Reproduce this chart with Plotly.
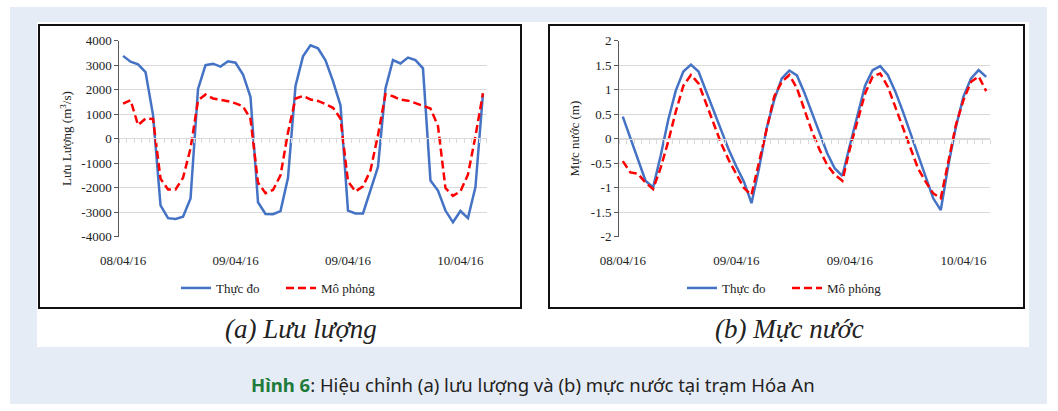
import plotly.graph_objects as go

# ---------------- data ----------------
time_index = list(range(49))
tick_pos = [0, 15, 30, 45]
tick_labels = ["08/04/16", "09/04/16", "09/04/16", "10/04/16"]

q_obs = [3380, 3140, 3030, 2720, 960, -2730, -3250, -3280, -3190, -2450,
         2030, 3000, 3060, 2940, 3160, 3100, 2620, 1700, -2600, -3080,
         -3090, -2960, -1600, 2150, 3360, 3810, 3690, 3200, 2350, 1360,
         -2940, -3060, -3060, -2120, -1160, 2050, 3210, 3070, 3310, 3210,
         2870, -1710, -2120, -2940, -3420, -2960, -3250, -1980, 1840]
q_sim = [1430, 1570, 550, 820, 800, -1640, -2080, -2080, -1600, -400,
         1560, 1800, 1640, 1600, 1530, 1440, 1320, 800, -1800, -2230,
         -2100, -1500, 250, 1640, 1740, 1600, 1540, 1410, 1260, 820,
         -1750, -2160, -1950, -1300, 140, 1810, 1730, 1590, 1550, 1450,
         1340, 1230, 520, -2020, -2340, -2150, -1470, 100, 1850]
h_obs = [0.45, 0.02, -0.42, -0.86, -1.00, -0.35, 0.38, 0.98, 1.37, 1.51,
         1.37, 0.97, 0.55, 0.14, -0.23, -0.57, -0.88, -1.32, -0.60, 0.21,
         0.79, 1.23, 1.39, 1.29, 0.93, 0.52, 0.11, -0.30, -0.61, -0.76,
         -0.13, 0.48, 1.08, 1.40, 1.48, 1.30, 0.96, 0.55, 0.11, -0.33,
         -0.74, -1.22, -1.46, -0.54, 0.24, 0.86, 1.23, 1.40, 1.26]
h_sim = [-0.46, -0.69, -0.72, -0.90, -1.03, -0.60, -0.06, 0.55, 1.08, 1.30,
         1.13, 0.72, 0.28, -0.10, -0.44, -0.74, -1.01, -1.15, -0.47, 0.24,
         0.86, 1.16, 1.30, 1.03, 0.59, 0.14, -0.23, -0.54, -0.74, -0.86,
         -0.20, 0.38, 0.92, 1.27, 1.33, 1.06, 0.65, 0.21, -0.20, -0.61,
         -0.88, -1.12, -1.22, -0.47, 0.28, 0.79, 1.16, 1.27, 0.97]

q_ticks = [4000, 3000, 2000, 1000, 0, -1000, -2000, -3000, -4000]
q_ticktext = ["4000", "3000", "2000", "1000", "0", "-1000", "-2000", "-3000", "-4000"]
h_ticks = [2, 1.5, 1, 0.5, 0, -0.5, -1, -1.5, -2]
h_ticktext = ["2", "1.5", "1", "0.5", "0", "-0.5", "-1", "-1.5", "-2"]

name_obs = "Thực đo"
name_sim = "Mô phỏng"

# ---------------- style ----------------
W, H = 1058, 411
BLUE = "#4472C4"
RED = "#FF0000"
GRID = "#D9D9D9"
AXIS = "#595959"
SERIF = "Liberation Serif, Times New Roman, serif"
DASH = "8px,4px"


def px(x):
    return x / W


def py(y):
    return 1 - y / H


fig = go.Figure()

fig.add_trace(go.Scatter(x=time_index, y=q_obs, name=name_obs, mode="lines",
                         line=dict(color=BLUE, width=2.5), xaxis="x", yaxis="y",
                         legend="legend"))
fig.add_trace(go.Scatter(x=time_index, y=q_sim, name=name_sim, mode="lines",
                         line=dict(color=RED, width=2.5, dash=DASH), xaxis="x", yaxis="y",
                         legend="legend"))
fig.add_trace(go.Scatter(x=time_index, y=h_obs, name=name_obs, mode="lines",
                         line=dict(color=BLUE, width=2.5), xaxis="x2", yaxis="y2",
                         legend="legend2"))
fig.add_trace(go.Scatter(x=time_index, y=h_sim, name=name_sim, mode="lines",
                         line=dict(color=RED, width=2.5, dash=DASH), xaxis="x2", yaxis="y2",
                         legend="legend2"))
# helper traces so the zero-line category axes get drawn
fig.add_trace(go.Scatter(x=[0], y=[None], xaxis="x3", yaxis="y", showlegend=False,
                         hoverinfo="skip", mode="lines"))
fig.add_trace(go.Scatter(x=[0], y=[None], xaxis="x4", yaxis="y2", showlegend=False,
                         hoverinfo="skip", mode="lines"))

xr = [-0.5, len(time_index) - 0.5]
left_dom = [px(119.3), px(486.7)]
right_dom = [px(619), px(990)]
ydom = [py(236.5), py(40.7)]

common_x = dict(range=xr, tickmode="array", tickvals=tick_pos, ticktext=tick_labels,
                showgrid=False, zeroline=False, showline=False, ticks="",
                tickfont=dict(family=SERIF, size=13, color="#222"),
                ticklabelstandoff=14, fixedrange=True, automargin=False)
zero_x = dict(range=xr, tickmode="linear", tick0=-0.5, dtick=1, ticks="outside", ticklen=4,
              tickcolor=GRID, tickwidth=1, showline=True, linecolor=GRID, linewidth=1,
              showticklabels=False, showgrid=False, zeroline=False, automargin=False)
common_y = dict(domain=ydom, tickmode="array", showgrid=True, gridcolor=GRID,
                gridwidth=1, zeroline=False, showline=True, linecolor=AXIS, linewidth=1,
                ticks="outside", ticklen=4, tickcolor=AXIS, automargin=False,
                tickfont=dict(family=SERIF, size=13, color="#222"))
fig.update_layout(
    xaxis=dict(domain=left_dom, anchor="y", **common_x),
    xaxis2=dict(domain=right_dom, anchor="y2", **common_x),
    xaxis3=dict(overlaying="x", anchor="free", position=py(138.3), **zero_x),
    xaxis4=dict(overlaying="x2", anchor="free", position=py(138.7), **zero_x),
    yaxis=dict(anchor="x", range=[-4000, 4000], tickvals=q_ticks, ticktext=q_ticktext,
               title=dict(text="Lưu Lượng (m<sup>3</sup>/s)", standoff=6,
                          font=dict(family=SERIF, size=13, color="#222")),
               **common_y),
    yaxis2=dict(anchor="x2", range=[-2, 2], tickvals=h_ticks, ticktext=h_ticktext,
                title=dict(text="Mực nước (m)", standoff=8,
                           font=dict(family=SERIF, size=13, color="#222")),
                **common_y),
    legend=dict(orientation="h", x=px(176), xanchor="left", y=py(288), yanchor="middle",
                font=dict(family=SERIF, size=13, color="#222"), bgcolor="rgba(0,0,0,0)",
                entrywidth=60, itemwidth=30, tracegroupgap=0),
    legend2=dict(orientation="h", x=px(682), xanchor="left", y=py(288), yanchor="middle",
                 font=dict(family=SERIF, size=13, color="#222"), bgcolor="rgba(0,0,0,0)",
                 entrywidth=60, itemwidth=30, tracegroupgap=0),
    width=W, height=H, autosize=False, margin=dict(l=0, r=0, t=0, b=0, pad=0, autoexpand=False),
    paper_bgcolor="white", plot_bgcolor="rgba(0,0,0,0)",
    showlegend=True,
)

# decorative background panels / frames
shapes = [
    dict(type="rect", xref="paper", yref="paper", x0=px(10), x1=px(1047), y0=py(404), y1=py(7),
         fillcolor="#E6ECF6", line=dict(width=0), layer="below"),
    dict(type="rect", xref="paper", yref="paper", x0=px(37), x1=px(1029), y0=py(347), y1=py(22),
         fillcolor="white", line=dict(width=0), layer="below"),
    dict(type="rect", xref="paper", yref="paper", x0=px(39), x1=px(521), y0=py(308), y1=py(25),
         fillcolor="rgba(0,0,0,0)", line=dict(color="#111", width=2), layer="below"),
    dict(type="rect", xref="paper", yref="paper", x0=px(549), x1=px(1024), y0=py(308), y1=py(25),
         fillcolor="rgba(0,0,0,0)", line=dict(color="#111", width=2), layer="below"),
]
fig.update_layout(shapes=shapes)

fig.add_annotation(x=px(301), y=py(329), xref="paper", yref="paper", showarrow=False,
                   xanchor="center", yanchor="middle",
                   text="<i>(a) Lưu lượng</i>", font=dict(family=SERIF, size=27, color="#222"))
fig.add_annotation(x=px(789), y=py(329), xref="paper", yref="paper", showarrow=False,
                   xanchor="center", yanchor="middle",
                   text="<i>(b) Mực nước</i>", font=dict(family=SERIF, size=27, color="#222"))
fig.add_annotation(x=px(533), y=py(384), xref="paper", yref="paper", showarrow=False,
                   xanchor="center", yanchor="middle",
                   text="<b><span style='color:#1E7B3A'>Hình 6</span></b>: Hiệu chỉnh (a) lưu lượng và (b) mực nước tại trạm Hóa An",
                   font=dict(family="Noto Sans, Open Sans, sans-serif", size=18.5, color="#231F20"))

fig.write_html("out.html", config={"displayModeBar": False},
               post_script="document.body.style.margin='0';")
